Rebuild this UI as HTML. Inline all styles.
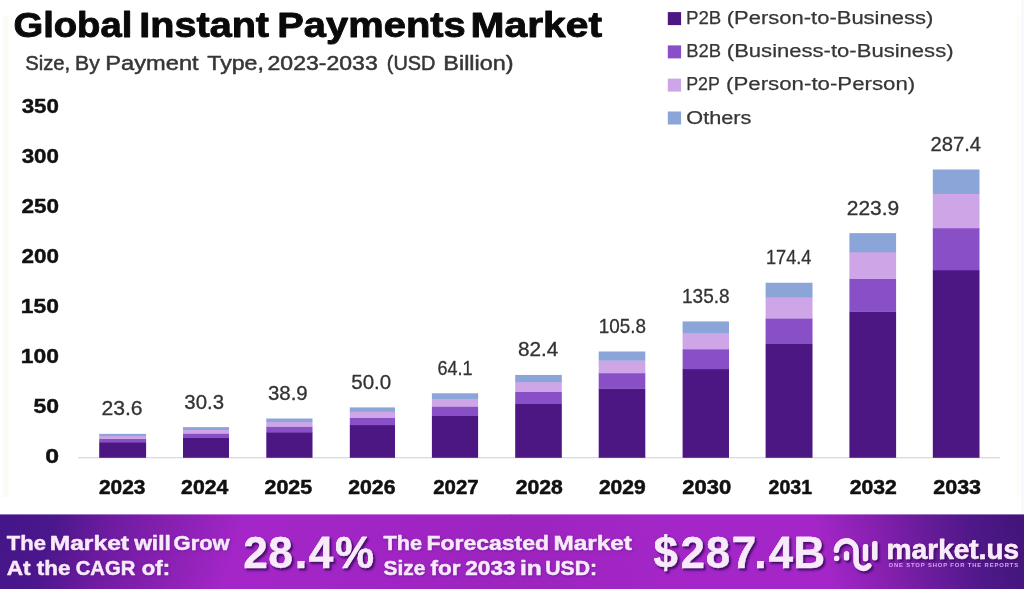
<!DOCTYPE html>
<html lang="en"><head><meta charset="utf-8"><title>Global Instant Payments Market</title>
<style>
html,body{margin:0;padding:0;background:#fff;}
body{width:1024px;height:589px;overflow:hidden;font-family:'Liberation Sans',sans-serif;}
svg{display:block;}
svg text{font-family:'Liberation Sans',sans-serif;white-space:pre;}
</style></head><body>
<svg width="1024" height="589" viewBox="0 0 1024 589" role="img" aria-label="Global Instant Payments Market chart">
<defs>
<linearGradient id="bgl" gradientUnits="userSpaceOnUse" x1="0" y1="0" x2="520" y2="0" gradientTransform="matrix(1 0 -0.3 1 166 0)">
<stop offset="0" stop-color="#45168a"/>
<stop offset="0.087" stop-color="#4b178c"/>
<stop offset="0.144" stop-color="#5e1997"/>
<stop offset="0.192" stop-color="#6d1ba0"/>
<stop offset="0.288" stop-color="#821fae"/>
<stop offset="0.385" stop-color="#9623bc"/>
<stop offset="0.452" stop-color="#a426c8"/>
<stop offset="0.8" stop-color="#a024c3"/>
<stop offset="1" stop-color="#9d24bf"/>
</linearGradient>
<linearGradient id="bgr" gradientUnits="userSpaceOnUse" x1="500" y1="0" x2="1024" y2="0" gradientTransform="matrix(1 0 0.25 1 -115 0)">
<stop offset="0" stop-color="#9d24bf"/>
<stop offset="0.3" stop-color="#a426c8"/>
<stop offset="0.57" stop-color="#a426c8"/>
<stop offset="0.67" stop-color="#8a20b2"/>
<stop offset="0.77" stop-color="#6a1c9c"/>
<stop offset="0.87" stop-color="#4e1888"/>
<stop offset="1" stop-color="#3e1476"/>
</linearGradient>
<filter id="soft" filterUnits="userSpaceOnUse" x="-20" y="-20" width="1064" height="629" color-interpolation-filters="sRGB"><feGaussianBlur stdDeviation="0.55"/></filter>
<filter id="bs" x="-5%" y="-20%" width="110%" height="150%" color-interpolation-filters="sRGB"><feDropShadow dx="1.9" dy="2.1" stdDeviation="1.0" flood-color="#4a0f70" flood-opacity="1" result="a"/><feDropShadow in="SourceGraphic" dx="1.2" dy="1.4" stdDeviation="0.7" flood-color="#4a0f70" flood-opacity="0.9" result="b"/><feMerge><feMergeNode in="a"/><feMergeNode in="b"/></feMerge></filter>
<filter id="ts" x="-5%" y="-20%" width="110%" height="150%" color-interpolation-filters="sRGB"><feDropShadow dx="0.5" dy="0.8" stdDeviation="0.8" flood-color="#5a1480" flood-opacity="0.6"/></filter>
</defs>
<g filter="url(#soft)">
<rect x="-20" y="-20" width="1064" height="629" fill="#ffffff"/>
<rect x="3" y="15.5" width="5.7" height="481.5" fill="#fbfbf6"/>
<rect x="1016.3" y="15.5" width="3.6" height="480" fill="#fcfcf8"/>
<rect x="1021" y="0" width="3" height="515" fill="#fcf7fd"/>

<text transform="matrix(1 0 0 1.0000 0 37.30)" y="0" font-size="35.4" font-weight="bold" fill="#0a0a0a" stroke="#0a0a0a" stroke-width="0.9" stroke-linejoin="round"><tspan x="13.42" textLength="118.97" lengthAdjust="spacingAndGlyphs">Global</tspan> <tspan x="139.28" textLength="129.79" lengthAdjust="spacingAndGlyphs">Instant</tspan> <tspan x="277.26" textLength="188.48" lengthAdjust="spacingAndGlyphs">Payments</tspan> <tspan x="470.60" textLength="131.41" lengthAdjust="spacingAndGlyphs">Market</tspan></text>
<text transform="matrix(1 0 0 1.0000 0 69.80)" y="0" font-size="20.5" fill="#363636" stroke="#363636" stroke-width="0.5" stroke-linejoin="round"><tspan x="25.14" textLength="45.10" lengthAdjust="spacingAndGlyphs">Size,</tspan> <tspan x="75.05" textLength="24.74" lengthAdjust="spacingAndGlyphs">By</tspan> <tspan x="105.36" textLength="93.24" lengthAdjust="spacingAndGlyphs">Payment</tspan> <tspan x="207.30" textLength="56.60" lengthAdjust="spacingAndGlyphs">Type,</tspan> <tspan x="267.50" textLength="110.23" lengthAdjust="spacingAndGlyphs">2023-2033</tspan> <tspan x="386.86" textLength="48.57" lengthAdjust="spacingAndGlyphs">(USD</tspan> <tspan x="443.38" textLength="70.10" lengthAdjust="spacingAndGlyphs">Billion)</tspan></text>
<text transform="matrix(1.2740 0 0 1.0000 45.21 462.70)" font-size="19.5" font-weight="bold" fill="#111" stroke="#111" stroke-width="0.4" stroke-linejoin="round">0</text>
<text transform="matrix(1.1785 0 0 1.0000 33.41 412.70)" font-size="19.5" font-weight="bold" fill="#111" stroke="#111" stroke-width="0.4" stroke-linejoin="round">50</text>
<text transform="matrix(1.1731 0 0 1.0000 20.83 362.70)" font-size="19.5" font-weight="bold" fill="#111" stroke="#111" stroke-width="0.4" stroke-linejoin="round">100</text>
<text transform="matrix(1.1731 0 0 1.0000 20.83 312.70)" font-size="19.5" font-weight="bold" fill="#111" stroke="#111" stroke-width="0.4" stroke-linejoin="round">150</text>
<text transform="matrix(1.1547 0 0 1.0000 21.41 262.70)" font-size="19.5" font-weight="bold" fill="#111" stroke="#111" stroke-width="0.4" stroke-linejoin="round">200</text>
<text transform="matrix(1.1547 0 0 1.0000 21.41 212.70)" font-size="19.5" font-weight="bold" fill="#111" stroke="#111" stroke-width="0.4" stroke-linejoin="round">250</text>
<text transform="matrix(1.1474 0 0 1.0000 21.64 162.70)" font-size="19.5" font-weight="bold" fill="#111" stroke="#111" stroke-width="0.4" stroke-linejoin="round">300</text>
<text transform="matrix(1.1474 0 0 1.0000 21.64 112.70)" font-size="19.5" font-weight="bold" fill="#111" stroke="#111" stroke-width="0.4" stroke-linejoin="round">350</text>
<rect x="78" y="457.2" width="922" height="1.1" fill="#d6d2da"/>
<rect x="99.20" y="442.10" width="46.90" height="15.70" fill="#4c1683"/>
<rect x="99.20" y="438.65" width="46.90" height="3.75" fill="#894fc7"/>
<rect x="99.20" y="435.84" width="46.90" height="3.11" fill="#cea6e8"/>
<rect x="99.20" y="433.85" width="46.90" height="2.29" fill="#8ca5d8"/>
<text transform="matrix(1.0593 0 0 1.0000 101.39 415.25)" font-size="20" fill="#333" stroke="#333" stroke-width="0.3" stroke-linejoin="round">23.6</text>
<text transform="matrix(1.0732 0 0 1.0000 98.92 494.00)" font-size="19.5" font-weight="bold" fill="#111" stroke="#111" stroke-width="0.5" stroke-linejoin="round">2023</text>
<rect x="183.00" y="437.73" width="46.00" height="20.07" fill="#4c1683"/>
<rect x="183.00" y="433.30" width="46.00" height="4.73" fill="#894fc7"/>
<rect x="183.00" y="429.69" width="46.00" height="3.91" fill="#cea6e8"/>
<rect x="183.00" y="427.14" width="46.00" height="2.85" fill="#8ca5d8"/>
<text transform="matrix(1.0188 0 0 1.0000 184.33 408.54)" font-size="20" fill="#333" stroke="#333" stroke-width="0.3" stroke-linejoin="round">30.3</text>
<text transform="matrix(1.0867 0 0 1.0000 181.11 494.00)" font-size="19.5" font-weight="bold" fill="#111" stroke="#111" stroke-width="0.5" stroke-linejoin="round">2024</text>
<rect x="266.30" y="432.12" width="46.20" height="25.68" fill="#4c1683"/>
<rect x="266.30" y="426.43" width="46.20" height="5.99" fill="#894fc7"/>
<rect x="266.30" y="421.79" width="46.20" height="4.94" fill="#cea6e8"/>
<rect x="266.30" y="418.52" width="46.20" height="3.57" fill="#8ca5d8"/>
<text transform="matrix(1.0215 0 0 1.0000 267.93 399.92)" font-size="20" fill="#333" stroke="#333" stroke-width="0.3" stroke-linejoin="round">38.9</text>
<text transform="matrix(1.0991 0 0 1.0000 264.50 494.00)" font-size="19.5" font-weight="bold" fill="#111" stroke="#111" stroke-width="0.5" stroke-linejoin="round">2025</text>
<rect x="349.80" y="424.88" width="45.20" height="32.92" fill="#4c1683"/>
<rect x="349.80" y="417.57" width="45.20" height="7.62" fill="#894fc7"/>
<rect x="349.80" y="411.60" width="45.20" height="6.26" fill="#cea6e8"/>
<rect x="349.80" y="407.40" width="45.20" height="4.51" fill="#8ca5d8"/>
<text transform="matrix(1.0267 0 0 1.0000 351.23 388.80)" font-size="20" fill="#333" stroke="#333" stroke-width="0.3" stroke-linejoin="round">50.0</text>
<text transform="matrix(1.0887 0 0 1.0000 348.26 494.00)" font-size="19.5" font-weight="bold" fill="#111" stroke="#111" stroke-width="0.5" stroke-linejoin="round">2026</text>
<rect x="431.90" y="415.68" width="46.20" height="42.12" fill="#4c1683"/>
<rect x="431.90" y="406.31" width="46.20" height="9.68" fill="#894fc7"/>
<rect x="431.90" y="398.66" width="46.20" height="7.94" fill="#cea6e8"/>
<rect x="431.90" y="393.27" width="46.20" height="5.70" fill="#8ca5d8"/>
<text transform="matrix(0.9000 0 0 1.0000 437.55 374.67)" font-size="20" fill="#333" stroke="#333" stroke-width="0.3" stroke-linejoin="round">64.1</text>
<text transform="matrix(1.0459 0 0 1.0000 433.29 494.00)" font-size="19.5" font-weight="bold" fill="#111" stroke="#111" stroke-width="0.5" stroke-linejoin="round">2027</text>
<rect x="515.20" y="403.75" width="46.60" height="54.05" fill="#4c1683"/>
<rect x="515.20" y="391.69" width="46.60" height="12.36" fill="#894fc7"/>
<rect x="515.20" y="381.86" width="46.60" height="10.13" fill="#cea6e8"/>
<rect x="515.20" y="374.93" width="46.60" height="7.24" fill="#8ca5d8"/>
<text transform="matrix(1.0361 0 0 1.0000 517.97 356.33)" font-size="20" fill="#333" stroke="#333" stroke-width="0.3" stroke-linejoin="round">82.4</text>
<text transform="matrix(1.0862 0 0 1.0000 515.76 494.00)" font-size="19.5" font-weight="bold" fill="#111" stroke="#111" stroke-width="0.5" stroke-linejoin="round">2028</text>
<rect x="598.70" y="388.48" width="46.60" height="69.32" fill="#4c1683"/>
<rect x="598.70" y="373.00" width="46.60" height="15.78" fill="#894fc7"/>
<rect x="598.70" y="360.38" width="46.60" height="12.92" fill="#cea6e8"/>
<rect x="598.70" y="351.48" width="46.60" height="9.21" fill="#8ca5d8"/>
<text transform="matrix(0.9434 0 0 1.0000 598.73 332.88)" font-size="20" fill="#333" stroke="#333" stroke-width="0.3" stroke-linejoin="round">105.8</text>
<text transform="matrix(1.0804 0 0 1.0000 598.91 494.00)" font-size="19.5" font-weight="bold" fill="#111" stroke="#111" stroke-width="0.5" stroke-linejoin="round">2029</text>
<rect x="682.60" y="368.91" width="46.40" height="88.89" fill="#4c1683"/>
<rect x="682.60" y="349.04" width="46.40" height="20.17" fill="#894fc7"/>
<rect x="682.60" y="332.85" width="46.40" height="16.49" fill="#cea6e8"/>
<rect x="682.60" y="321.42" width="46.40" height="11.73" fill="#8ca5d8"/>
<text transform="matrix(0.9518 0 0 1.0000 682.02 302.82)" font-size="20" fill="#333" stroke="#333" stroke-width="0.3" stroke-linejoin="round">135.8</text>
<text transform="matrix(1.1282 0 0 1.0000 682.28 494.00)" font-size="19.5" font-weight="bold" fill="#111" stroke="#111" stroke-width="0.5" stroke-linejoin="round">2030</text>
<rect x="765.60" y="343.73" width="46.90" height="114.07" fill="#4c1683"/>
<rect x="765.60" y="318.21" width="46.90" height="25.82" fill="#894fc7"/>
<rect x="765.60" y="297.42" width="46.90" height="21.10" fill="#cea6e8"/>
<rect x="765.60" y="282.74" width="46.90" height="14.98" fill="#8ca5d8"/>
<text transform="matrix(0.9081 0 0 1.0000 765.99 264.14)" font-size="20" fill="#333" stroke="#333" stroke-width="0.3" stroke-linejoin="round">174.4</text>
<text transform="matrix(1.0020 0 0 1.0000 768.57 494.00)" font-size="19.5" font-weight="bold" fill="#111" stroke="#111" stroke-width="0.5" stroke-linejoin="round">2031</text>
<rect x="849.40" y="311.44" width="46.70" height="146.36" fill="#4c1683"/>
<rect x="849.40" y="278.68" width="46.70" height="33.06" fill="#894fc7"/>
<rect x="849.40" y="251.98" width="46.70" height="27.00" fill="#cea6e8"/>
<rect x="849.40" y="233.13" width="46.70" height="19.15" fill="#8ca5d8"/>
<text transform="matrix(1.0478 0 0 1.0000 846.80 214.53)" font-size="20" fill="#333" stroke="#333" stroke-width="0.3" stroke-linejoin="round">223.9</text>
<text transform="matrix(1.0841 0 0 1.0000 849.76 494.00)" font-size="19.5" font-weight="bold" fill="#111" stroke="#111" stroke-width="0.5" stroke-linejoin="round">2032</text>
<rect x="932.80" y="270.01" width="46.70" height="187.79" fill="#4c1683"/>
<rect x="932.80" y="227.96" width="46.70" height="42.35" fill="#894fc7"/>
<rect x="932.80" y="193.69" width="46.70" height="34.57" fill="#cea6e8"/>
<rect x="932.80" y="169.50" width="46.70" height="24.49" fill="#8ca5d8"/>
<text transform="matrix(1.0103 0 0 1.0000 930.54 150.90)" font-size="20" fill="#333" stroke="#333" stroke-width="0.3" stroke-linejoin="round">287.4</text>
<text transform="matrix(1.1042 0 0 1.0000 933.20 494.00)" font-size="19.5" font-weight="bold" fill="#111" stroke="#111" stroke-width="0.5" stroke-linejoin="round">2033</text>
<rect x="667.8" y="12.1" width="13.3" height="13" fill="#4c1683"/>
<text transform="matrix(1 0 0 1.0000 0 24.00)" y="0" font-size="19.2" fill="#363636" stroke="#363636" stroke-width="0.25" stroke-linejoin="round"><tspan x="685.93" textLength="35.39" lengthAdjust="spacingAndGlyphs">P2B</tspan> <tspan x="726.81" textLength="206.44" lengthAdjust="spacingAndGlyphs">(Person-to-Business)</tspan></text>
<rect x="667.8" y="45.4" width="13.3" height="13" fill="#894fc7"/>
<text transform="matrix(1 0 0 1.0000 0 57.00)" y="0" font-size="19.2" fill="#363636" stroke="#363636" stroke-width="0.25" stroke-linejoin="round"><tspan x="686.15" textLength="34.96" lengthAdjust="spacingAndGlyphs">B2B</tspan> <tspan x="726.80" textLength="226.73" lengthAdjust="spacingAndGlyphs">(Business-to-Business)</tspan></text>
<rect x="667.8" y="78.6" width="13.3" height="13" fill="#cea6e8"/>
<text transform="matrix(1 0 0 1.0000 0 90.30)" y="0" font-size="19.2" fill="#363636" stroke="#363636" stroke-width="0.25" stroke-linejoin="round"><tspan x="686.21" textLength="33.35" lengthAdjust="spacingAndGlyphs">P2P</tspan> <tspan x="726.09" textLength="189.19" lengthAdjust="spacingAndGlyphs">(Person-to-Person)</tspan></text>
<rect x="667.8" y="111.5" width="13.3" height="13" fill="#8ca5d8"/>
<text transform="matrix(1 0 0 1.0000 0 123.80)" y="0" font-size="19.2" fill="#363636" stroke="#363636" stroke-width="0.25" stroke-linejoin="round"><tspan x="686.35" textLength="65.11" lengthAdjust="spacingAndGlyphs">Others</tspan></text>
<rect x="-20" y="514.4" width="532" height="95" fill="url(#bgl)"/>
<rect x="511.5" y="514.4" width="533" height="95" fill="url(#bgr)"/>
<g filter="url(#ts)">
<text transform="matrix(1 0 0 1.0000 0 549.90)" y="0" font-size="20.5" font-weight="bold" fill="#f8e9fb" stroke="#f8e9fb" stroke-width="0.5" stroke-linejoin="round"><tspan x="6.83" textLength="39.05" lengthAdjust="spacingAndGlyphs">The</tspan> <tspan x="49.65" textLength="79.44" lengthAdjust="spacingAndGlyphs">Market</tspan> <tspan x="134.16" textLength="36.69" lengthAdjust="spacingAndGlyphs">will</tspan> <tspan x="173.57" textLength="56.08" lengthAdjust="spacingAndGlyphs">Grow</tspan></text>
<text transform="matrix(1 0 0 1.0000 0 575.30)" y="0" font-size="20.5" font-weight="bold" fill="#f8e9fb" stroke="#f8e9fb" stroke-width="0.5" stroke-linejoin="round"><tspan x="6.78" textLength="23.91" lengthAdjust="spacingAndGlyphs">At</tspan> <tspan x="36.83" textLength="33.61" lengthAdjust="spacingAndGlyphs">the</tspan> <tspan x="75.74" textLength="59.50" lengthAdjust="spacingAndGlyphs">CAGR</tspan> <tspan x="141.87" textLength="28.23" lengthAdjust="spacingAndGlyphs">of:</tspan></text>
<text transform="matrix(1 0 0 1.0000 0 549.90)" y="0" font-size="20.5" font-weight="bold" fill="#f8e9fb" stroke="#f8e9fb" stroke-width="0.5" stroke-linejoin="round"><tspan x="383.53" textLength="38.64" lengthAdjust="spacingAndGlyphs">The</tspan> <tspan x="426.46" textLength="122.60" lengthAdjust="spacingAndGlyphs">Forecasted</tspan> <tspan x="553.57" textLength="78.42" lengthAdjust="spacingAndGlyphs">Market</tspan></text>
<text transform="matrix(1 0 0 1.0000 0 575.30)" y="0" font-size="20.5" font-weight="bold" fill="#f8e9fb" stroke="#f8e9fb" stroke-width="0.5" stroke-linejoin="round"><tspan x="383.62" textLength="41.78" lengthAdjust="spacingAndGlyphs">Size</tspan> <tspan x="430.51" textLength="30.03" lengthAdjust="spacingAndGlyphs">for</tspan> <tspan x="465.26" textLength="50.27" lengthAdjust="spacingAndGlyphs">2033</tspan> <tspan x="519.93" textLength="21.87" lengthAdjust="spacingAndGlyphs">in</tspan> <tspan x="545.28" textLength="51.78" lengthAdjust="spacingAndGlyphs">USD:</tspan></text>
</g>
<g filter="url(#bs)">
<text transform="matrix(0.9942 0 0 1.0211 0 568.30)" x="244.94 270.18 296.76 310.75 337.19" y="0" font-size="44" font-weight="bold" fill="#f8e9fb" stroke="#f8e9fb" stroke-width="0.5" stroke-linejoin="round">28.4%</text>
<text transform="matrix(0.9856 0 0 1.0211 0 568.30)" x="663.23 690.64 716.30 742.63 765.48 780.15 805.42" y="0" font-size="44" font-weight="bold" fill="#f8e9fb" stroke="#f8e9fb" stroke-width="0.5" stroke-linejoin="round">$287.4B</text>
<g fill="none" stroke="#f8e9fb" stroke-width="5.4" stroke-linecap="round">
<path d="M836.5 550.3 A9.85 9.85 0 0 1 856.2 551.4 V561.2 A7.2 7.2 0 0 0 868.9 565.8"/>
<path d="M846.6 553.9 V557.9"/>
<path d="M865.6 546.7 V558.7"/>
<path d="M874.9 543.7 V557.8"/>
</g>
<circle cx="836.7" cy="558.5" r="2.7" fill="#f8e9fb"/>
<text transform="matrix(1.0201 0 0 1.0000 886.73 559.00)" font-size="27.5" font-weight="bold" fill="#f8e9fb" stroke="#f8e9fb" stroke-width="0.5" stroke-linejoin="round">market.us</text>
</g>
<text transform="matrix(0.9490 0 0 1.0000 888.46 567.10)" font-size="6.2" font-weight="bold" fill="#d8a6ea" letter-spacing="0.9">ONE STOP SHOP FOR THE REPORTS</text>
</g>
</svg>
</body></html>
